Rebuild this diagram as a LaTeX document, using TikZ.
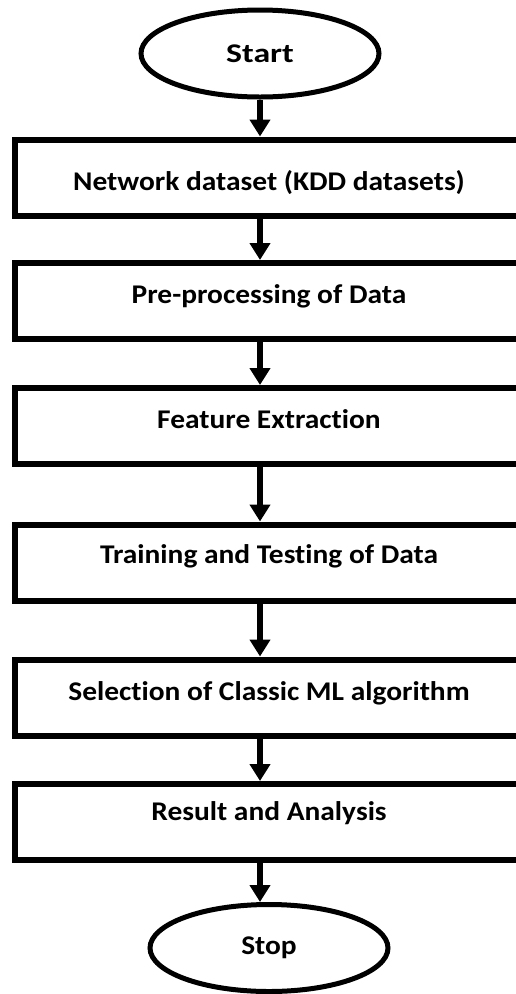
\documentclass[tikz,border=0pt]{standalone}
\usepackage{fontspec}
\setmainfont[FakeStretch=1.09, Ligatures=NoCommon]{Carlito}
\usetikzlibrary{arrows.meta,shapes.geometric}
\begin{document}
\begin{tikzpicture}[x=1pt, y=-1pt, font=\bfseries\fontsize{27}{31}\selectfont, line join=miter, >={Triangle[width=20pt,length=17pt]}]
		\tikzset{
			stepbox/.style={draw, line width=6pt, minimum width=508pt, minimum height=76pt, inner sep=0pt, text height=17.4pt, text depth=12pt},
			term/.style={draw, ellipse, line width=5pt, minimum width=238pt, minimum height=87pt, inner sep=0pt},
			flow/.style={line width=6pt, ->}
		}
		\useasboundingbox (0,0) rectangle (515,994);
		\node[term, font=\bfseries\fontsize{27}{31}\selectfont\addfontfeature{FakeStretch=1.25}] (start) at (260,53.5) {Start};
		\node[stepbox, text height=26.4pt, text depth=0pt] (net) at (269,177.5) {Network dataset (KDD datasets)};
		\node[stepbox] (pre) at (269,301) {Pre-processing of Data};
		\node[stepbox] (feat) at (269,426) {Feature Extraction};
		\node[stepbox, text depth=15pt] (train) at (269,562.5) {Training and Testing of Data};
		\node[stepbox] (sel) at (269,697.5) {Selection of Classic ML algorithm};
		\node[stepbox, text depth=20pt] (res) at (269,822) {Result and Analysis};
		\node[term] (stop) at (269,948) {Stop};
		% arrows down the middle
		\draw[flow] (start.south) -- (start.south |- net.north);
		\foreach \a/\b in {net/pre, pre/feat, feat/train, train/sel, sel/res, res/stop}
		\draw[flow] (\a.south -| start) -- (\b.north -| start);
\end{tikzpicture}
\end{document}
